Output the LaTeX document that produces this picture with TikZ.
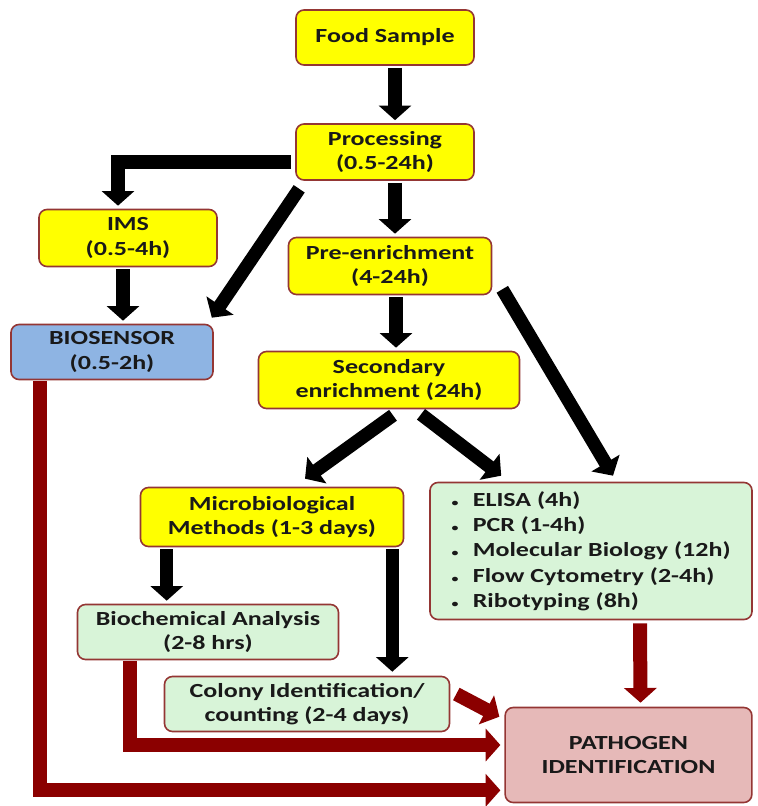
\documentclass[tikz,border=0pt]{standalone}
\usepackage{fontspec}
\setmainfont{Carlito}[FakeStretch=1.3]
\usetikzlibrary{arrows.meta,calc}
\definecolor{boxred}{HTML}{943634}
\definecolor{arrowred}{HTML}{8B0000}
\definecolor{stepyellow}{HTML}{FFFF00}
\definecolor{sensorblue}{HTML}{8EB4E3}
\definecolor{testgreen}{HTML}{D8F4D8}
\definecolor{resultpink}{HTML}{E6B9B8}
\newcommand{\testdot}{\makebox[16pt][l]{\fontsize{8}{8}\selectfont\textbullet}}

\begin{document}
\begin{tikzpicture}[x=0.75pt, y=-0.75pt,
    stage/.style={draw=boxred, line width=1.2pt, rounded corners=6pt, inner sep=0pt,
      align=center, font=\bfseries\fontsize{15}{18.5}\selectfont, text=black!90},
    yellow stage/.style={stage, fill=stepyellow},
    blue stage/.style={stage, fill=sensorblue},
    green stage/.style={stage, fill=testgreen},
    pink stage/.style={stage, fill=resultpink},
    flow/.style={line width=10pt, -{Triangle[width=24pt, length=11pt]}},
    red flow/.style={flow, color=arrowred, line width=10.5pt}
    ]
    \useasboundingbox (0,0) rectangle (757,806);

    \node[yellow stage, minimum width=133.5pt, minimum height=41.25pt] (food) at (385,37.5) {Food Sample};
    \node[yellow stage, minimum width=133.5pt, minimum height=42pt] (proc) at (385,152) {Processing\\(0.5-24h)};
    \node[yellow stage, minimum width=133.5pt, minimum height=42.75pt] (ims) at (128,238) {IMS\\(0.5-4h)};
    \node[yellow stage, minimum width=152.25pt, minimum height=42.75pt] (pre) at (390,266) {Pre-enrichment\\(4-24h)};
    \node[blue stage, minimum width=151.5pt, minimum height=41.25pt] (bio) at (112,352) {BIOSENSOR\\(0.5-2h)};
    \node[yellow stage, minimum width=195.75pt, minimum height=42.75pt] (sec) at (389,380) {Secondary\\enrichment (24h)};
    \node[yellow stage, minimum width=197.25pt, minimum height=44.25pt] (micro) at (272,517) {Microbiological\\Methods (1-3 days)};
    \node[green stage, align=left, minimum width=241.5pt, minimum height=102.75pt,
      font=\bfseries\fontsize{15}{19}\selectfont] (methods) at (591,551)
      {\testdot ELISA (4h)\\
       \testdot PCR (1-4h)\\
       \testdot Molecular Biology (12h)\\
       \testdot Flow Cytometry (2-4h)\\
       \testdot Ribotyping (8h)};
    \node[green stage, minimum width=195.75pt, minimum height=41.25pt] (biochem) at (208,632) {Biochemical Analysis\\(2-8 hrs)};
    \node[green stage, minimum width=213.75pt, minimum height=41.25pt] (colony) at (307,704) {Colony Identification/\\counting (2-4 days)};
    \node[pink stage, minimum width=185pt, minimum height=71.25pt] (path) at (628.5,755) {PATHOGEN\\IDENTIFICATION};

    \draw[flow] ($(food.south)+(10,2)$) -- ($(proc.north)+(10,-3)$);
    \draw[flow] ($(proc.west)+(-4,10)$) -| ($(ims.north)+(-10,-3)$);
    \draw[flow] ($(proc.south west)+(4,8)$) -- ($(bio.north east)+(-2,-6)$);
    \draw[flow] ($(ims.south)+(-5,2)$) -- ($(bio.north)+(11,-3)$);
    \draw[flow] ($(proc.south)+(10,2)$) -- ($(pre.north)+(5,-3)$);
    \draw[flow] ($(pre.south)+(6,2)$) -- ($(sec.north)+(7,-3)$);
    \draw[flow] ($(pre.south east)+(10,-6)$) -- ($(methods.north)+(22,-6)$);
    \draw[flow] ($(sec.south)+(4,6)$) -- ($(micro.north)+(33,-8)$);
    \draw[flow] ($(sec.south)+(32,5)$) -- ($(methods.north west)+(72,-6)$);
    \draw[flow] ($(micro.south west)+(27,2)$) -- ($(biochem.north west)+(90,-3)$);
    \draw[flow] ($(micro.south east)+(-12,2)$) -- ($(colony.north east)+(-58,-4)$);

    \draw[red flow] ($(bio.south west)+(30,1)$) |- ($(path.south west)+(-4,-13)$);
    \draw[red flow] ($(biochem.south west)+(53,1)$) |- ($(path.west)+(-4,-10)$);
    \draw[red flow] ($(colony.east)+(6,-10)$) -- ($(path.north west)+(-5,10)$);
    \draw[red flow] ($(methods.south)+(49,3)$) -- ($(path.north)+(12,-4)$);
  \end{tikzpicture}
\end{document}
